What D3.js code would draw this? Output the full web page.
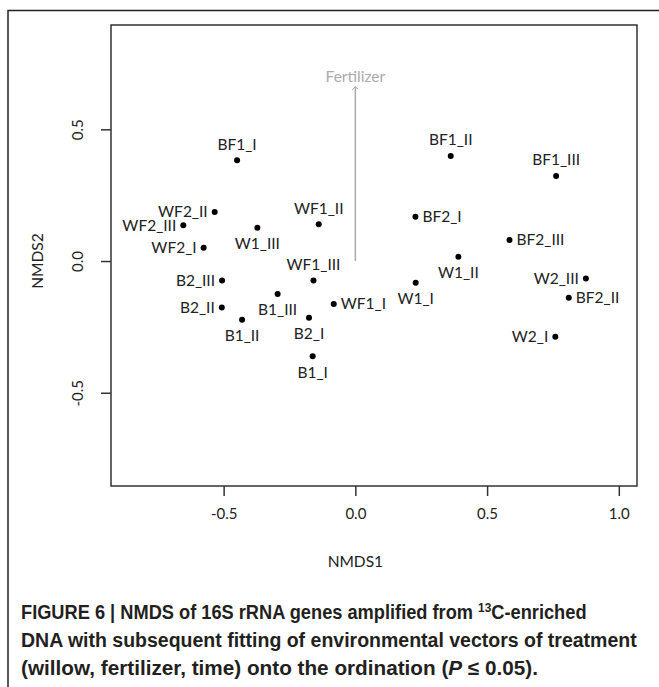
<!DOCTYPE html>
<html>
<head>
<meta charset="utf-8">
<script src="https://cdn.jsdelivr.net/npm/d3@7"></script>
<style>
  body { margin: 0; background: #fff; }
  svg { display: block; }
  .lbl { font-family: Lato, "Open Sans", sans-serif; font-size: 15.5px; fill: #222; }
  .tick text { font-family: Lato, "Open Sans", sans-serif; font-size: 15px; fill: #222; }
  .cap { font-family: "Liberation Sans", Arial, sans-serif; font-weight: bold; font-size: 20px; fill: #231f20; }
</style>
</head>
<body>
<svg width="659" height="687"></svg>
<script>
const width = 659, height = 687;
const svg = d3.select("svg");

// sample scores
const samples = ["BF1_I", "WF2_II", "WF2_III", "W1_III", "WF1_II", "WF2_I", "WF1_III", "B2_III",
  "BF1_II", "BF1_III", "BF2_I", "BF2_III", "W1_II", "W1_I", "W2_III", "B1_III", "B2_II",
  "WF1_I", "B1_II", "B2_I", "B1_I", "BF2_II", "W2_I"];
const nmds1 = [-0.449, -0.534, -0.653, -0.372, -0.139, -0.576, -0.159, -0.506,
  0.362, 0.762, 0.228, 0.585, 0.391, 0.229, 0.875, -0.295, -0.507,
  -0.082, -0.430, -0.176, -0.162, 0.810, 0.759];
const nmds2 = [0.383, 0.186, 0.136, 0.126, 0.140, 0.050, -0.074, -0.074,
  0.399, 0.323, 0.168, 0.080, 0.016, -0.082, -0.066, -0.125, -0.176,
  -0.163, -0.223, -0.215, -0.361, -0.139, -0.287];
// where the label sits: 1 below, 2 left, 3 above, 4 right (like R's pos)
const labelPos = [3, 2, 2, 1, 3, 2, 3, 2,
  3, 3, 4, 4, 1, 1, 2, 1, 2,
  4, 1, 1, 1, 4, 2];

const vecName = ["Fertilizer"];
const vecX = [0];
const vecY = [0.662];

const xTicks = [-0.5, 0.0, 0.5, 1.0];
const yTicks = [-0.5, 0.0, 0.5];

const box = { left: 111, right: 637, top: 25, bottom: 486 };

const x = d3.scaleLinear().domain([-0.9275, 1.069]).range([box.left, box.right]);
const y = d3.scaleLinear().domain([-0.854, 0.896]).range([box.bottom, box.top]);

// outer figure frame
svg.append("path")
  .attr("d", `M8,${height}V10.5H${width}`)
  .attr("fill", "none")
  .attr("stroke", "#222")
  .attr("stroke-width", 1.5);

// plot box
svg.append("rect")
  .attr("x", box.left).attr("y", box.top)
  .attr("width", box.right - box.left).attr("height", box.bottom - box.top)
  .attr("fill", "none").attr("stroke", "#333").attr("stroke-width", 1.5);

// axes
const xAxis = svg.append("g")
  .attr("transform", `translate(0,${box.bottom})`)
  .call(d3.axisBottom(x).tickValues(xTicks).tickFormat(d3.format(".1f")).tickSize(10).tickPadding(18));
const yAxis = svg.append("g")
  .attr("transform", `translate(${box.left},0)`)
  .call(d3.axisLeft(y).tickValues(yTicks).tickFormat(d3.format(".1f")).tickSize(10).tickPadding(0));
[xAxis, yAxis].forEach(a => {
  a.select(".domain").remove();
  a.selectAll(".tick line").attr("stroke", "#333").attr("stroke-width", 1.5);
});
xAxis.selectAll(".tick text").attr("dy", "0.3em");
// rotated y tick labels
yAxis.selectAll(".tick text")
  .attr("x", null).attr("dy", null)
  .attr("text-anchor", "middle")
  .attr("transform", "translate(-33,0) rotate(-90)")
  .attr("dy", "0.35em");
// minus sign like R (hyphen)
svg.selectAll(".tick text").text(d => d3.format(".1f")(d).replace("−", "-"));

// axis titles
svg.append("text").attr("class", "lbl")
  .attr("x", x(0)).attr("y", 562).attr("dy", "0.35em")
  .attr("text-anchor", "middle").text("NMDS1");
svg.append("text").attr("class", "lbl")
  .attr("transform", `translate(38,${y(0)}) rotate(-90)`)
  .attr("dy", "0.35em").attr("text-anchor", "middle").text("NMDS2");

// fitted vector
svg.append("defs").append("marker")
  .attr("id", "arrow")
  .attr("viewBox", "-5 -6 10 8")
  .attr("refX", 0).attr("refY", 0)
  .attr("markerWidth", 8).attr("markerHeight", 8)
  .attr("markerUnits", "userSpaceOnUse")
  .attr("orient", "auto-start-reverse")
  .append("path")
  .attr("d", "M-4,4L0,0L4,4")
  .attr("transform", "rotate(90)")
  .attr("fill", "none").attr("stroke", "#aaa").attr("stroke-width", 1.2);

const vecs = vecName.map((n, i) => ({ name: n, x: vecX[i], y: vecY[i] }));
svg.selectAll(".vec")
  .data(vecs)
  .enter()
  .append("line")
  .attr("class", "vec")
  .attr("x1", x(0)).attr("y1", y(0))
  .attr("x2", d => x(d.x)).attr("y2", d => y(d.y))
  .attr("stroke", "#aaa").attr("stroke-width", 1.5)
  .attr("marker-end", "url(#arrow)");
svg.selectAll(".veclbl")
  .data(vecs)
  .enter()
  .append("text")
  .attr("class", "lbl")
  .attr("x", d => x(d.x)).attr("y", d => y(d.y) - 10)
  .attr("dy", "0.35em")
  .attr("text-anchor", "middle")
  .style("fill", "#aaa")
  .text(d => d.name);

// sample points
const pts = samples.map((s, i) => ({ name: s, x: nmds1[i], y: nmds2[i], pos: labelPos[i] }));
svg.selectAll(".pt")
  .data(pts)
  .enter()
  .append("circle")
  .attr("class", "pt")
  .attr("cx", d => x(d.x)).attr("cy", d => y(d.y))
  .attr("r", 3)
  .attr("fill", "#000");

const off = 16, offH = 7;
svg.selectAll(".ptlbl")
  .data(pts)
  .enter()
  .append("text")
  .attr("class", "lbl")
  .attr("x", d => x(d.x) + (d.pos === 2 ? -offH : d.pos === 4 ? offH : 0))
  .attr("y", d => y(d.y) + (d.pos === 1 ? off : d.pos === 3 ? -off : 0))
  .attr("dy", "0.35em")
  .attr("text-anchor", d => d.pos === 2 ? "end" : d.pos === 4 ? "start" : "middle")
  .text(d => d.name);

// caption, one text per line, squeezed to the condensed face widths of the original
const capX = 21;
const capLines = [
  { y: 619, w: 566 },
  { y: 647, w: 616 },
  { y: 675, w: 517 }
];
const caps = capLines.map(l => svg.append("text").attr("class", "cap").attr("x", capX).attr("y", l.y));
caps[0].append("tspan").text("FIGURE 6 | NMDS of 16S rRNA genes amplified from ");
caps[0].append("tspan").attr("font-size", "13px").attr("dy", -7).text("13");
caps[0].append("tspan").attr("dy", 7).text("C-enriched");
caps[1].text("DNA with subsequent fitting of environmental vectors of treatment");
caps[2].append("tspan").text("(willow, fertilizer, time) onto the ordination (");
caps[2].append("tspan").attr("font-style", "italic").text("P");
caps[2].append("tspan").text(" \u2264 0.05).");
caps.forEach((t, i) => {
  const bw = t.node().getBBox().width;
  const sx = capLines[i].w / bw;
  t.attr("transform", `translate(${capX},0) scale(${sx},1) translate(${-capX},0)`);
});
</script>
</body>
</html>
